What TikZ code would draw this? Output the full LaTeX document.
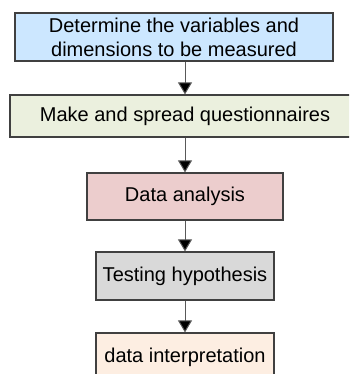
\documentclass[tikz,border=0pt]{standalone}
\usepackage{fontspec}
\setmainfont{Liberation Sans}
\usepackage{tikz}
\usetikzlibrary{arrows.meta, positioning, calc}
\definecolor{detc}{RGB}{204,231,255}
\definecolor{questc}{RGB}{235,240,222}
\definecolor{analc}{RGB}{236,205,205}
\definecolor{hypc}{RGB}{217,217,217}
\definecolor{interpc}{RGB}{253,238,226}
\definecolor{edgec}{RGB}{64,64,64}

\begin{document}
\begin{tikzpicture}[x=1pt, y=1pt,
  stepbox/.style={draw=edgec, line width=1.2pt, inner sep=0pt, align=center,
    font=\fontsize{20}{24}\selectfont},
  flow/.style={draw=black!65, line width=1pt,
    -{Triangle[width=14pt, length=12pt, fill=black]}}]
  \clip (0,0) rectangle (349,374);
  % steps
  \node[stepbox, fill=detc, minimum width=318pt, minimum height=48pt] (det) at (174,337)
    {Determine the variables and\\dimensions to be measured};
  \node[stepbox, fill=questc, minimum width=350pt, minimum height=42pt] (quest) at (185,258)
    {Make and spread questionnaires};
  \node[stepbox, fill=analc, minimum width=196pt, minimum height=47pt] (anal) at (185,177.5)
    {Data analysis};
  \node[stepbox, fill=hypc, minimum width=178pt, minimum height=48pt] (hyp) at (185,98)
    {Testing hypothesis};
  \node[stepbox, fill=interpc, minimum width=178pt, minimum height=48pt] (interp) at (185,17)
    {data interpretation};
  % arrows
  \draw[flow] (det.south -| quest.north) -- (quest.north);
  \draw[flow] (quest.south -| anal.north) -- (anal.north);
  \draw[flow] (anal.south) -- (hyp.north);
  \draw[flow] (hyp.south) -- (interp.north);
\end{tikzpicture}
\end{document}
